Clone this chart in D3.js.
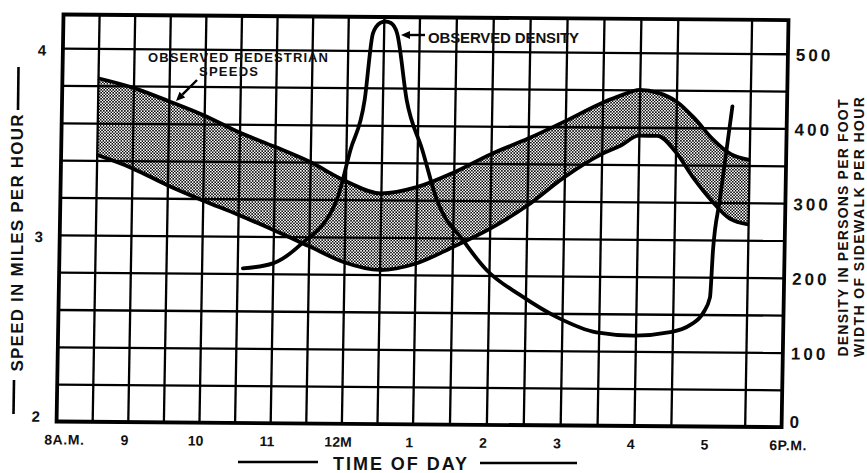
<!DOCTYPE html>
<html>
<head>
<meta charset="utf-8">
<script src="https://cdn.jsdelivr.net/npm/d3@7"></script>
<style>
  body { margin: 0; background: #fff; }
  svg { display: block; }
  text { font-family: "Liberation Sans", Arial, sans-serif; font-weight: 700; fill: #111; }
</style>
</head>
<body>
<svg id="chart" width="867" height="473"></svg>
<script>
// Time axis (hours, 24h clock) and its printed labels
const hourTicks  = [8, 9, 10, 11, 12, 13, 14, 15, 16, 17, 18];
const hourLabels = ["8A.M.", "9", "10", "11", "12M", "1", "2", "3", "4", "5", "6P.M."];
const speedTicks = [2, 3, 4];
const densityTicks = [0, 100, 200, 300, 400, 500];

// Observed pedestrian speed band (miles per hour)
const bandHours  = [8.5, 9, 9.5, 10, 10.5, 11, 11.5, 12, 12.5, 13, 13.5, 14, 14.5, 15, 15.5, 15.75, 16, 16.25, 16.5, 16.75, 17, 17.25, 17.5];
const speedUpper = [3.84, 3.79, 3.72, 3.645, 3.555, 3.48, 3.40, 3.30, 3.235, 3.27, 3.35, 3.45, 3.535, 3.63, 3.73, 3.77, 3.80, 3.785, 3.74, 3.65, 3.54, 3.46, 3.43];
const speedLower = [3.43, 3.36, 3.27, 3.19, 3.115, 3.035, 2.95, 2.865, 2.825, 2.86, 2.95, 3.05, 3.175, 3.33, 3.455, 3.50, 3.555, 3.555, 3.47, 3.33, 3.21, 3.115, 3.085];

// Observed density (persons per foot width of sidewalk per hour)
const densityHours  = [10.58, 11.0, 11.38, 11.88, 12.06, 12.25, 12.35, 12.45, 12.52, 12.6, 12.69, 12.84, 13.07, 13.28, 13.64, 13.97, 14.43, 14.93, 15.47, 15.97, 16.47, 16.74, 16.91, 17.0, 17.03, 17.11, 17.26];
const densityValues = [207, 214, 239, 299, 366, 434, 523, 537, 539, 537, 523, 434, 367, 300, 247, 207, 174, 145, 125, 121, 126, 136, 152, 173, 236, 303, 429];

const W = 725, H = 407;
const svg = d3.select("#chart");

// Plot area sits slightly skewed on the sheet
const g = svg.append("g").attr("transform", "matrix(1,0.0078,-0.017,1,63.5,14.5)");

const x = d3.scaleLinear().domain([8, 13, 18]).range([0, 356, W]);
const ySpeed = d3.scaleLinear().domain([2, 4.18]).range([H, 0]);
const yDensity = d3.scaleLinear().domain([0, 545]).range([H, 0]);

// Stipple pattern for the speed band
const defs = svg.append("defs");
const pat = defs.append("pattern").attr("id", "stipple")
  .attr("patternUnits", "userSpaceOnUse").attr("width", 3).attr("height", 3);
pat.append("rect").attr("width", 3).attr("height", 3).attr("fill", "#fff");
pat.append("path").attr("d", "M0,0L3,3M3,0L0,3M-1.5,1.5L1.5,4.5M1.5,-1.5L4.5,1.5")
  .attr("stroke", "#000").attr("stroke-width", 0.72);

const band = bandHours.map((h, i) => ({ h, hi: speedUpper[i], lo: speedLower[i] }));

g.append("path").datum(band)
  .attr("fill", "url(#stipple)")
  .attr("d", d3.area().x(d => x(d.h)).y0(d => ySpeed(d.lo)).y1(d => ySpeed(d.hi)).curve(d3.curveMonotoneX));

// Grid
const halfHours = d3.range(17).map(i => 8.5 + i * 0.5);
const speedGrid = d3.range(1, 11).map(i => 2 + i * 0.2);

const gx = g.append("g").attr("transform", `translate(0,${H})`)
  .call(d3.axisBottom(x).tickValues(halfHours.concat([17.5])).tickSize(-H).tickFormat(""));
const gy = g.append("g")
  .call(d3.axisLeft(ySpeed).tickValues(speedGrid).tickSize(-W).tickFormat(""));
[gx, gy].forEach(a => {
  a.select(".domain").remove();
  a.selectAll("line").attr("stroke", "#000").attr("stroke-width", 2.3);
});

// Speed band edges
const lineOf = key => d3.line().x(d => x(d.h)).y(d => ySpeed(d[key])).curve(d3.curveMonotoneX);
["hi", "lo"].forEach(k => {
  g.append("path").datum(band).attr("fill", "none").attr("stroke", "#000")
    .attr("stroke-width", 3.8).attr("stroke-linejoin", "round").attr("d", lineOf(k));
});

// Density curve
const dens = densityHours.map((h, i) => ({ h, v: densityValues[i] }));
g.append("path").datum(dens).attr("fill", "none").attr("stroke", "#000")
  .attr("stroke-width", 3.8).attr("stroke-linecap", "round").attr("stroke-linejoin", "round")
  .attr("d", d3.line().x(d => x(d.h)).y(d => yDensity(d.v)).curve(d3.curveMonotoneX));

// Frame
g.append("rect").attr("x", 0).attr("y", 0).attr("width", W).attr("height", H)
  .attr("fill", "none").attr("stroke", "#000").attr("stroke-width", 3.8);

// Time labels
const isEnd = i => i === 0 || i === hourTicks.length - 1;
g.append("g").selectAll("text").data(hourTicks).join("text")
  .attr("x", (d, i) => isEnd(i) ? x(d) - 12 : x(d) - 3)
  .attr("y", H + 23)
  .attr("text-anchor", (d, i) => isEnd(i) ? "start" : "middle")
  .attr("font-size", 14).attr("letter-spacing", (d, i) => isEnd(i) ? 0.6 : 0)
  .text((d, i) => hourLabels[i]);

// Speed labels
g.append("g").selectAll("text").data(speedTicks).join("text")
  .attr("x", -21).attr("y", d => ySpeed(d) + (d === 2 ? -5 : 2))
  .attr("text-anchor", "middle").attr("dominant-baseline", "central")
  .attr("font-size", 15).text(d => d);

// Density labels
g.append("g").selectAll("text").data(densityTicks).join("text")
  .attr("x", W + 8).attr("y", d => yDensity(d) + (d === 0 ? -5 : 1.5))
  .attr("dominant-baseline", "central")
  .attr("font-size", 17).attr("font-weight", 600).attr("letter-spacing", 3)
  .text(d => d);

// Axis titles
svg.append("text").attr("transform", "translate(17,243) rotate(-90)")
  .attr("text-anchor", "middle").attr("dominant-baseline", "central")
  .attr("font-size", 17).attr("textLength", 257).attr("lengthAdjust", "spacing")
  .text("SPEED IN MILES PER HOUR");
svg.append("line").attr("x1", 18.5).attr("y1", 67).attr("x2", 18).attr("y2", 110)
  .attr("stroke", "#000").attr("stroke-width", 2.6);
svg.append("line").attr("x1", 14).attr("y1", 380).attr("x2", 13.5).attr("y2", 414)
  .attr("stroke", "#000").attr("stroke-width", 2.6);

svg.append("text").attr("transform", "translate(843,228) rotate(-90)")
  .attr("text-anchor", "middle").attr("dominant-baseline", "central")
  .attr("font-size", 14).attr("textLength", 257).attr("lengthAdjust", "spacing")
  .text("DENSITY IN PERSONS PER FOOT");
svg.append("text").attr("transform", "translate(858.5,227) rotate(-90)")
  .attr("text-anchor", "middle").attr("dominant-baseline", "central")
  .attr("font-size", 14).attr("textLength", 260).attr("lengthAdjust", "spacing")
  .text("WIDTH OF SIDEWALK PER HOUR");

svg.append("text").attr("x", 333).attr("y", 470)
  .attr("font-size", 18).attr("textLength", 134).attr("lengthAdjust", "spacing")
  .text("TIME OF DAY");
svg.append("line").attr("x1", 238).attr("y1", 462).attr("x2", 318).attr("y2", 462)
  .attr("stroke", "#000").attr("stroke-width", 2.6);
svg.append("line").attr("x1", 480).attr("y1", 463).attr("x2", 577).attr("y2", 463)
  .attr("stroke", "#000").attr("stroke-width", 2.6);

// Annotations with leader arrows
function arrow(x1, y1, x2, y2) {
  const dx = x2 - x1, dy = y2 - y1, len = Math.hypot(dx, dy);
  const ux = dx / len, uy = dy / len, hl = 9, hw = 4;
  const bx = x2 - ux * hl, by = y2 - uy * hl;
  svg.append("line").attr("x1", x1).attr("y1", y1).attr("x2", bx).attr("y2", by)
    .attr("stroke", "#000").attr("stroke-width", 2.4);
  svg.append("path")
    .attr("d", `M${x2},${y2}L${bx - uy * hw},${by + ux * hw}L${bx + uy * hw},${by - ux * hw}Z`)
    .attr("fill", "#000");
}

svg.append("text").attr("x", 148).attr("y", 62)
  .attr("font-size", 13).attr("textLength", 180).attr("lengthAdjust", "spacing")
  .text("OBSERVED PEDESTRIAN");
svg.append("text").attr("x", 199).attr("y", 76)
  .attr("font-size", 13).attr("textLength", 59).attr("lengthAdjust", "spacing")
  .text("SPEEDS");
arrow(197, 80, 176, 101);

svg.append("text").attr("x", 428).attr("y", 43)
  .attr("font-size", 15).attr("textLength", 151).attr("lengthAdjust", "spacing")
  .text("OBSERVED DENSITY");
arrow(425, 35, 401, 35);
</script>
</body>
</html>
